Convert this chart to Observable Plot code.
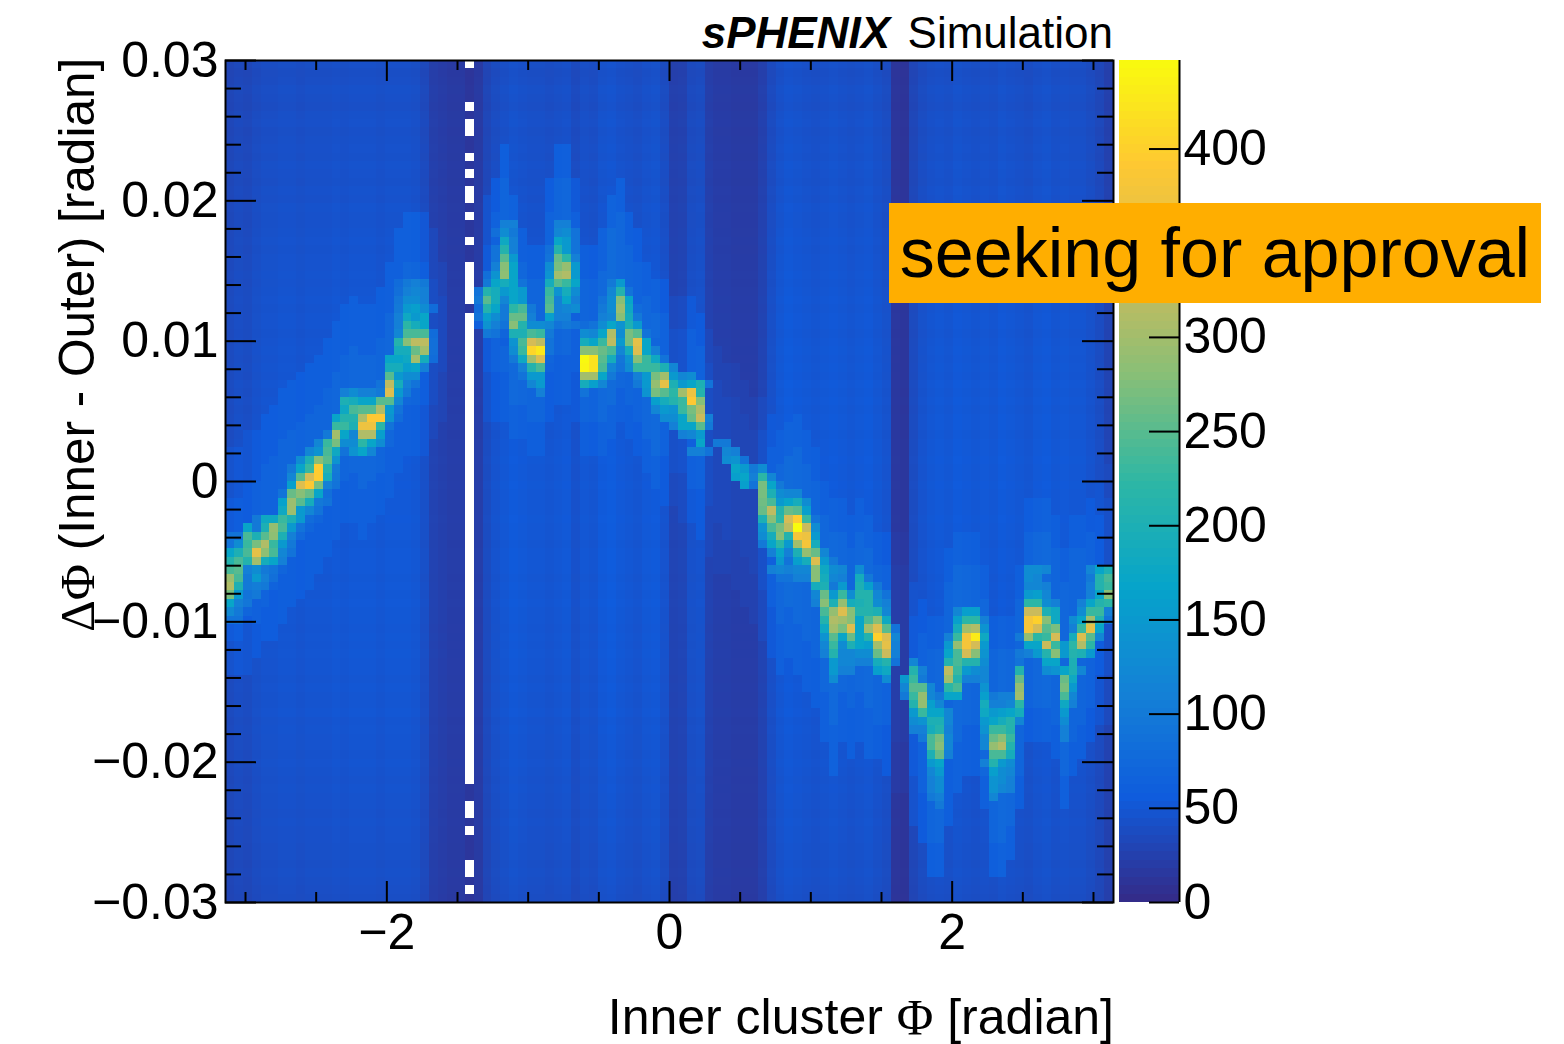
<!DOCTYPE html>
<html><head><meta charset="utf-8">
<script src="https://cdn.jsdelivr.net/npm/d3@7"></script>
<script src="https://cdn.jsdelivr.net/npm/@observablehq/plot@0.6"></script>
<style>
html,body{margin:0;padding:0;background:#fff}
#page{position:relative;width:1564px;height:1044px;overflow:hidden;font-family:"Liberation Sans",Arial,sans-serif;color:#000}
#page svg{position:absolute;left:0;top:0;background:transparent}
.lab{position:absolute;white-space:pre;line-height:1}
.sym{font-family:"Liberation Serif",serif;line-height:0}
</style></head><body><div id="page"></div>
<script>
const columnBase=[38,42,40,45,48,48,50,50,48,50,50,50,52,50,52,52,52,50,52,52,52,50,42,28,25,22,22,16,22,38,46,50,54,52,50,50,48,50,52,44,50,48,54,56,52,50,48,52,54,46,30,32,44,46,28,24,24,22,22,22,30,44,52,56,54,52,50,52,54,52,50,52,54,50,46,16,14,38,46,50,52,50,54,52,50,52,50,54,52,50,48,52,54,50,52,50,50,46,40,30];
const rowShade=[.82,.78,.8,.84,.82,.8,.84,.86,.82,.84,.86,.84,.88,.86,.84,.88,.86,.9,.88,.88,.9,.92,.9,.92,.92,.94,.92,.94,.96,.94,.96,.96,.94,.96,.98,.96,.98,.96,1,.98,1,.98,1,1,.98,1,1,1.02,1,1,1.02,1,1,1,1.02,1,1,.98,1,1,1,.98,1,.98,1,.98,.98,.96,.98,.96,.98,.96,.96,.94,.96,.94,.94,.96,.92,.94,.92,.92,.9,.92,.9,.88,.9,.88,.88,.86,.88,.86,.86,.84,.84,.82,.84,.82,.8,.78];
// per column: first and last row of the inner glow, first and last row of the outer glow
const glowColumns=[[0,52,68,46,72],[1,52,68,46,72],[2,50,66,44,72],[3,50,66,44,70],[4,48,64,42,68],[5,47,62,41,68],[6,45,60,39,66],[7,44,58,38,64],[8,43,56,37,63],[9,42,55,36,62],[10,41,54,35,60],[11,39,52,33,58],[12,37,50,31,56],[13,35,49,29,54],[14,34,48,28,54],[15,35,50,29,56],[16,35,49,29,54],[17,33,48,27,53],[18,30,45,24,51],[19,26,42,20,48],[20,24,40,18,46],[21,24,40,18,46],[22,24,40,18,46],[23,26,40,20,44],[24,28,36,24,42],[29,22,36,16,42],[30,18,36,14,42],[31,14,36,10,42],[32,20,40,16,44],[33,24,40,20,44],[34,26,42,22,46],[35,26,42,22,46],[36,18,36,14,42],[37,14,34,10,40],[38,14,34,10,40],[39,18,36,14,42],[40,26,42,22,46],[41,26,42,22,46],[42,25,42,20,46],[43,20,40,16,44],[44,18,38,14,42],[45,22,40,18,44],[46,24,42,20,46],[47,28,44,24,48],[48,30,46,26,50],[49,30,46,26,52],[50,32,48,28,52],[51,32,48,28,54],[52,32,50,28,54],[53,34,50,30,56],[54,36,52,32,58],[55,38,54,34,60],[56,40,56,36,60],[57,40,56,36,62],[58,42,58,38,64],[59,44,60,40,66],[60,44,62,40,68],[61,46,64,42,70],[62,48,66,44,72],[63,47,64,43,70],[64,46,66,42,72],[65,48,68,44,74],[66,50,70,46,76],[67,54,74,50,80],[68,56,78,52,84],[69,56,74,52,80],[70,58,76,54,82],[71,56,74,52,80],[72,58,76,54,82],[73,60,78,56,82],[74,60,78,56,84],[75,60,80,56,86],[76,60,80,56,86],[77,66,84,62,90],[78,68,86,64,92],[79,70,92,66,96],[80,70,92,66,96],[81,62,82,58,90],[82,60,80,56,86],[83,60,78,56,84],[84,60,78,56,84],[85,64,84,60,88],[86,70,92,66,96],[87,70,92,66,96],[88,70,90,66,94],[89,64,84,60,88],[90,56,76,52,80],[91,56,76,52,80],[92,56,76,52,80],[93,58,78,54,82],[94,62,84,58,88],[95,58,80,54,84],[96,58,78,54,82],[97,56,76,52,80],[98,54,72,50,78],[99,52,72,48,78]];
const glowInner=70, glowOuter=60, glowRef=50;
const ridgeRows=[
[19,[31,110,110],[37,110,110]],
[20,[30,85,130,100],[37,120,130,90]],
[21,[31,180,110],[37,170,150,90]],
[22,[30,90,210,110],[36,85,210,150,90]],
[23,[30,90,250,150],[36,90,260,220,110]],
[24,[30,110,280,170],[36,130,270,290,150]],
[25,[29,85,140,285,170],[36,140,300,310,150]],
[26,[19,80,100,110,100],[29,100,170,190,170,90],[36,190,250,230,170],[43,100,150]],
[27,[19,85,110,120,110],[28,90,210,190,150,170,150],[36,230,140,190,130],[43,120,210,90]],
[28,[19,95,130,130,110],[28,100,250,190,120,170,150],[36,240,110,170,110],[42,90,130,280,170]],
[29,[19,100,150,160,130,80],[28,80,210,170,100,220,240,100],[36,250,110,120,130],[42,100,130,295,180,80]],
[30,[19,110,180,150,170],[28,90,160,130,100,260,260,110],[36,160,110,110],[42,110,120,280,190,100]],
[31,[19,110,220,190,170],[28,60,140,110,90,280,210,130,130,120,90,100,90,80,90,130,170,140,200,150]],
[32,[19,120,240,240,240,80],[29,100,90],[32,200,200,240,230,100],[40,130,120,170,310,130,270,250,90]],
[33,[19,210,280,320,320,85],[31,60,140,240,340,320,90],[40,190,170,230,320,150,270,360,170,70]],
[34,[19,190,190,260,300,85],[32,130,230,405,425,90],[40,280,280,260,240,120,190,350,170,110]],
[35,[18,170,170,180,300,190,80],[32,100,180,300,350,70],[40,445,420,250,190,95,140,280,230,180,90]],
[36,[18,190,190,160,170,110],[33,110,210,240,65],[40,440,420,240,120,90,130,230,230,230,200,120]],
[37,[18,250,150,130,130],[33,90,150,150],[40,300,300,170,100],[46,110,150,270,300,150,120,130]],
[38,[17,90,320,190,110,90],[34,120,150],[40,190,160,120],[46,100,150,290,360,200,150,170,200,90]],
[39,[13,110,130,110,110,100,350,150,100],[35,110],[40,90],[47,140,270,250,220,300,370,210]],
[40,[13,200,190,170,170,250,250,120],[48,160,190,210,230,390,280]],
[41,[13,180,240,250,250,310,150,90],[48,120,150,140,230,270,310]],
[42,[12,170,210,210,310,390,390,140,80],[49,130,130,170,260,330,110]],
[43,[12,230,230,200,370,370,220,90],[50,110,170,170,250,100]],
[44,[11,100,300,170,120,310,310,160],[51,110,120,150]],
[45,[10,120,230,270,130,130,220,170,130],[53,170],[55,100,100]],
[46,[9,120,140,240,180,90],[14,140,170,120],[52,110,110,90],[56,120,110]],
[47,[8,130,200,280,250,140],[56,130,140,90]],
[48,[7,100,170,230,395,210,100],[57,170,150,100,130]],
[49,[7,120,250,340,395,190,95],[57,160,170,110,220,120]],
[50,[7,160,350,390,270,110,90],[58,160,90,270,170,100]],
[51,[6,90,260,280,260,170,85],[60,270,200,130,120,120]],
[52,[6,165,295,250,190,100,90],[60,265,240,150,170,190,130]],
[53,[6,180,295,150,120,90],[60,260,320,210,260,250,160]],
[54,[3,100,180,180,230,200,150,80],[60,200,280,220,340,395,230,90]],
[55,[2,170,100,200,290,240,150,90],[60,140,240,270,320,447,330,130]],
[56,[0,90,90,240,200,250,285,200,110,75],[60,130,190,280,210,380,370,150]],
[57,[0,90,130,230,270,310,230,150,100],[60,100,170,220,150,300,380,190]],
[58,[0,170,200,240,360,285,240,120,90],[61,110,170,110,200,290,260,120]],
[59,[0,210,240,210,300,190,170,110],[62,150,90,160,190,350,150,100]],
[60,[0,240,250,110,130,100,90],[61,110,120,110,120,120,280,180,130,120],[71,130],[90,130,130,120],[97,120,170,200]],
[61,[0,295,240,100,150,110,85],[62,90,90,110,110,280,190,120,110],[71,190,100],[90,130,120],[97,100,210,240]],
[62,[0,310,200,100,105,100],[66,190,200,100,150],[71,200,160,100],[90,120,120,110],[97,110,210,230]],
[63,[0,270,150,90,100],[66,120,260,150,230,130,210,210,120,90],[90,150,160,120],[97,110,170,280]],
[64,[0,170,110,95],[66,110,280,200,290,190,200,210,130,110],[90,220,220,130,110],[96,110,170,210,220]],
[65,[0,125,100,70],[67,240,290,350,280,210,210,200,120],[82,120,160,160],[90,330,330,200,180],[96,130,230,230,110]],
[66,[0,90,90],[67,210,310,300,280,170,240,280,180],[82,160,220,220,110],[90,380,400,280,180],[95,130,170,300,200,90]],
[67,[67,180,300,270,350,170,300,350,250,90],[82,190,300,310,140],[90,380,340,250,270],[95,110,230,360,170]],
[68,[67,140,250,170,260,170,210,400,350,120],[81,110,230,380,430,180],[89,100,290,220,230,340],[95,190,350,250,120]],
[69,[67,120,230,130,200,170,160,300,360,110],[81,150,290,380,340,150],[90,170,170,330,230,150,220,310,220]],
[70,[67,110,210,120,120,130,130,260,330,110],[81,170,240,340,280,140],[89,100,110,150,210,280,150,210,200,150]],
[71,[68,150,120,120,110,110,190,210,90],[77,120],[81,210,240,210,210,130],[89,90],[92,170,170],[95,200]],
[72,[68,150,110,110],[73,160,180],[77,210,110],[81,320,230,150,130,120],[89,210],[92,130,140,170,200,120]],
[73,[68,130],[74,130],[76,150,230,100],[81,300,210,110,110,120],[89,260],[94,260,180]],
[74,[76,120,250,250,120],[81,220,240],[85,140],[89,290],[94,270,150]],
[75,[76,100,230,290,120,100,170,170],[85,160,100,110,110,300],[94,240,120]],
[76,[77,210,290,160,120],[85,190,110,110,120,220],[94,180,110]],
[77,[77,150,230,170,170,120],[85,180,150,160,170,190],[94,150]],
[78,[77,130,140,200,200,120],[85,150,170,190,210,120],[94,130]],
[79,[77,110,110,190,210,110],[85,140,230,230,210],[94,110]],
[80,[78,100,240,270,120],[85,120,260,280,230],[94,110]],
[81,[79,240,280,120],[85,120,290,310,210]],
[82,[79,200,260,110],[86,240,240,190]],
[83,[79,150,170],[85,110,210,150,130]],
[84,[79,120,150],[86,160,130,120]],
[85,[79,110,130],[86,140,130,110]],
[86,[79,110,130],[86,140,120,110]],
[87,[79,100,110],[86,120]],
[88,[80,100]]
];
const emptyColumn=27;
const emptyRows=[0,5,7,8,11,13,15,16,18,21,24,25,26,27,28,...d3.range(30,86),88,89,91,95,96,98];
const birdStops=["#352a87","#0f5cdd","#1481d6","#06a4ca","#2eb7a4","#87bf77","#d1bb59","#fec832","#f9fb0e"];
const zMax=447;
const xMajor=[-2,0,2], xMinor=[-3,-2.5,-1.5,-1,-.5,.5,1,1.5,2.5,3];
const yMajor=[-.03,-.02,-.01,0,.01,.02,.03];
const yMinor=[-.028,-.026,-.024,-.022,-.018,-.016,-.014,-.012,-.008,-.006,-.004,-.002,.002,.004,.006,.008,.012,.014,.016,.018,.022,.024,.026,.028];
const zTicks=[0,50,100,150,200,250,300,350,400];
const zLabels=[0,50,100,150,200,250,300,400];

const N=100, pi=Math.PI;
const grid=d3.range(N).map(r=>columnBase.map(b=>b*rowShade[r]));
for(const [c,it,ib,ot,ob] of glowColumns){
  const k=columnBase[c]/glowRef;
  for(let r=ot;r<=ob;r++) grid[r][c]=Math.max(grid[r][c],(r>=it&&r<=ib?glowInner:glowOuter)*k);
}
for(const [r,...segs] of ridgeRows) for(const [c,...vals] of segs) vals.forEach((v,i)=>{grid[r][c+i]=v;});
const skip=new Set(emptyRows);
const cells=[];
for(let r=0;r<N;r++)for(let c=0;c<N;c++){
  if(c===emptyColumn&&skip.has(r))continue;
  cells.push({x1:-pi+c*2*pi/N,x2:-pi+(c+1)*2*pi/N,y1:.03-r*.06/N,y2:.03-(r+1)*.06/N,v:grid[r][c]});
}
const colorScale={type:"linear",domain:birdStops.map((_,i)=>i*zMax/8),range:birdStops,interpolate:"rgb"};
const W=1564,H=1044,L=225,R=1113,T=60,B=902;
const pw=R-L,ph=B-T;
const fs=50;
const fmtY=d=>d===0?"0":d3.format(".2f")(d);
const fmtX=d=>d3.format("d")(d);
const main=Plot.plot({
  width:W,height:H,marginLeft:L,marginRight:W-R,marginTop:T,marginBottom:H-B,
  style:{fontFamily:"'Liberation Sans',Arial,sans-serif",background:"transparent",overflow:"visible"},
  x:{domain:[-pi,pi],label:null},y:{domain:[-.03,.03],label:null},
  color:colorScale,
  marks:[
    Plot.rect(cells,{x1:"x1",x2:"x2",y1:"y1",y2:"y2",fill:"v",shapeRendering:"crispEdges"}),
    Plot.ruleX(xMinor,{insetBottom:ph-10,stroke:"#000",strokeWidth:2}),
    Plot.ruleX(xMinor,{insetTop:ph-10,stroke:"#000",strokeWidth:2}),
    Plot.ruleX(xMajor,{insetBottom:ph-21,stroke:"#000",strokeWidth:2}),
    Plot.ruleX(xMajor,{insetTop:ph-21,stroke:"#000",strokeWidth:2}),
    Plot.ruleY(yMinor,{insetRight:pw-16,stroke:"#000",strokeWidth:2}),
    Plot.ruleY(yMinor,{insetLeft:pw-16,stroke:"#000",strokeWidth:2}),
    Plot.ruleY(yMajor,{insetRight:pw-31,stroke:"#000",strokeWidth:2}),
    Plot.ruleY(yMajor,{insetLeft:pw-31,stroke:"#000",strokeWidth:2}),
    Plot.frame({stroke:"#000",strokeWidth:2}),
    Plot.axisX(xMajor,{anchor:"bottom",tickSize:0,tickPadding:11,fontSize:fs,label:null,fill:"#000",tickFormat:fmtX}),
    Plot.axisY(yMajor,{anchor:"left",tickSize:0,tickPadding:7,fontSize:fs,label:null,tickFormat:fmtY,fill:"#000"})
  ]
});
const bar=d3.range(100).map(i=>({y1:i*zMax/100,y2:(i+1)*zMax/100,v:(i+.5)*zMax/100}));
const colorbar=Plot.plot({
  width:W,height:H,marginLeft:1119,marginRight:W-1179,marginTop:T,marginBottom:H-B,
  style:{fontFamily:"'Liberation Sans',Arial,sans-serif",background:"transparent",overflow:"visible"},
  x:{domain:[0,1],axis:null},y:{domain:[0,zMax],label:null},
  color:colorScale,
  marks:[
    Plot.rect(bar,{x1:0,x2:1,y1:"y1",y2:"y2",fill:"v",shapeRendering:"crispEdges"}),
    Plot.ruleX([1],{stroke:"#000",strokeWidth:2}),
    Plot.ruleY(zTicks,{insetLeft:30,stroke:"#000",strokeWidth:2}),
    Plot.axisY(zLabels,{anchor:"right",tickSize:0,tickPadding:4,fontSize:fs,label:null,fill:"#000"})
  ]
});
const page=document.getElementById("page");
page.append(main,colorbar);
function label(html,css){const d=document.createElement("div");d.className="lab";d.innerHTML=html;d.style.cssText+=css;page.append(d);return d;}
label('<span style="font-weight:bold;font-style:italic">sPHENIX</span>',"right:674px;top:11px;font-size:44px");
label('Simulation',"right:451px;top:11px;font-size:44px");
label('Inner cluster <span class="sym">Φ</span> [radian]',"right:450px;top:992px;font-size:50px");
label('<span class="sym">ΔΦ</span> (Inner - Outer) [radian]',"left:52px;top:632px;width:574px;text-align:right;font-size:49.5px;transform-origin:0 0;transform:rotate(-90deg)");
label('seeking for approval',"left:889px;top:203px;width:652px;height:100px;background:#ffae00;font-size:70px;line-height:100px;text-align:center");
</script></body></html>
